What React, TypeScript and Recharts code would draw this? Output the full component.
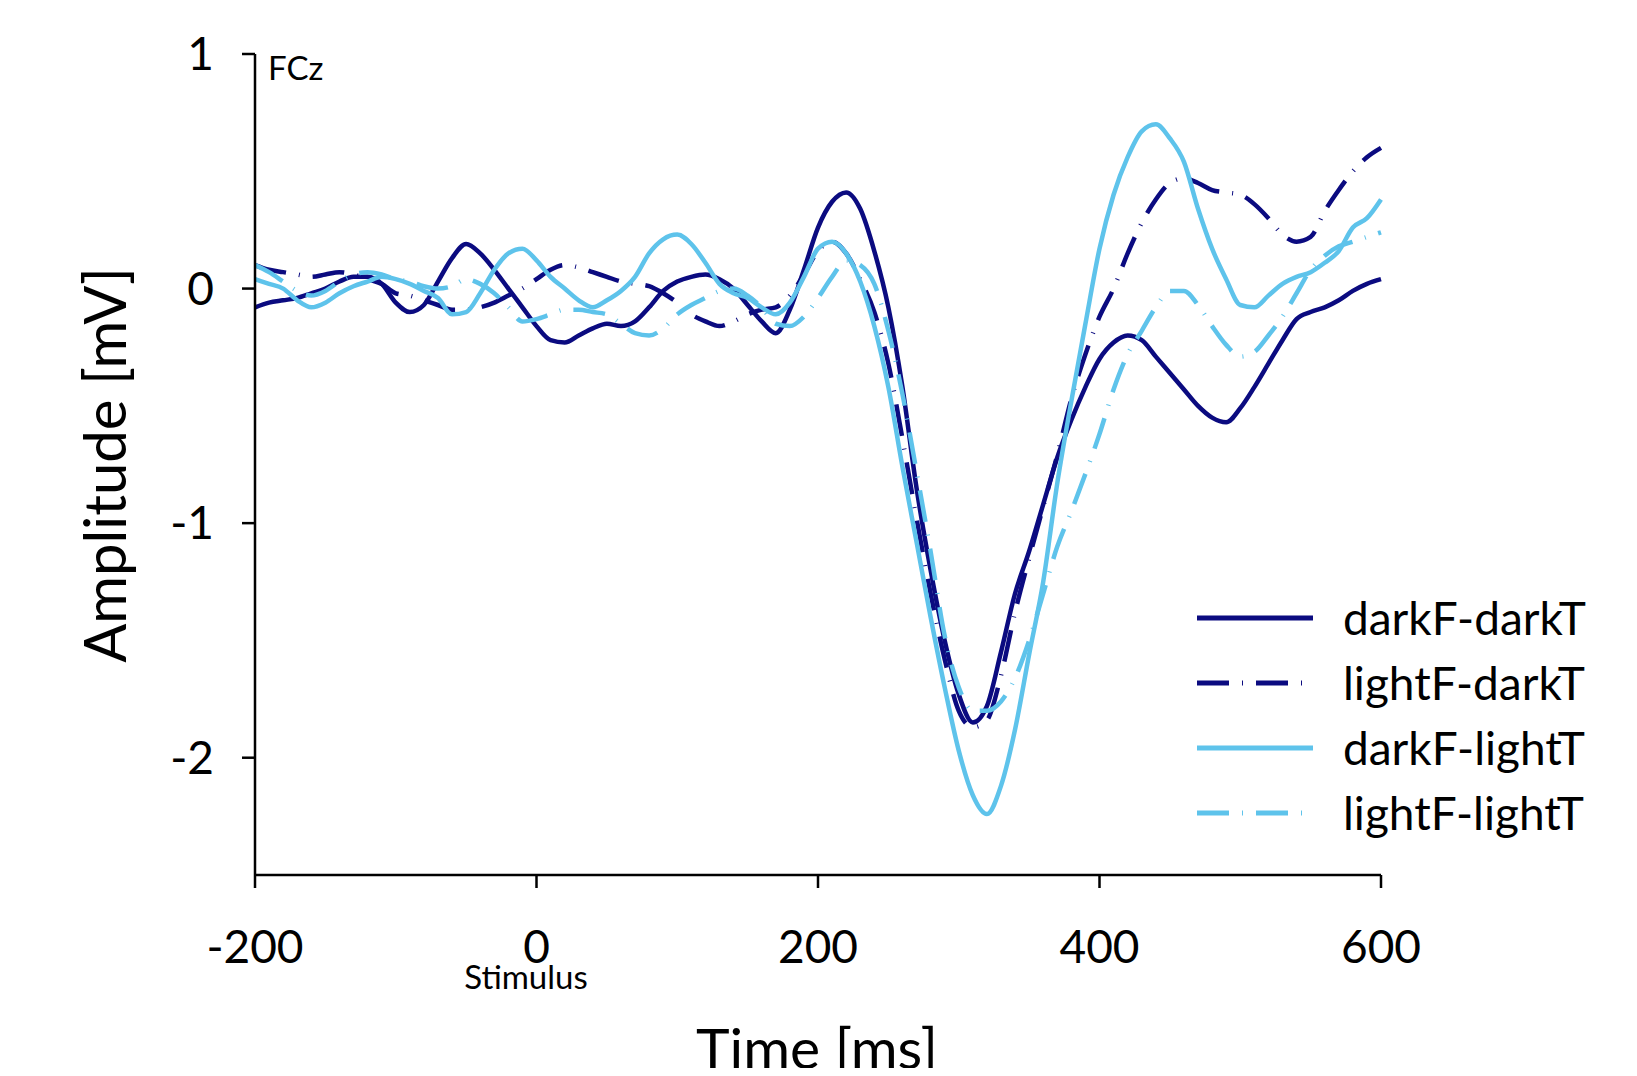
import { LineChart, Line, XAxis, YAxis } from "recharts";

const times = [
  -200, -190, -180, -170, -160, -150, -140, -130, -120, -110,
  -100, -90, -80, -70, -60, -50, -40, -30, -20, -10,
  0, 10, 20, 30, 40, 50, 60, 70, 80, 90,
  100, 110, 120, 130, 140, 150, 160, 170, 180, 190,
  200, 210, 220, 230, 240, 250, 260, 270, 280, 290,
  300, 310, 320, 330, 340, 350, 360, 370, 380, 390,
  400, 410, 420, 430, 440, 450, 460, 470, 480, 490,
  500, 510, 520, 530, 540, 550, 560, 570, 580, 590,
  600,
];

// darkF-darkT
const darkFdarkT = [
  -0.08, -0.06, -0.05, -0.04, -0.02, 0.0, 0.03, 0.05, 0.05, 0.02,
  -0.06, -0.1, -0.07, 0.03, 0.13, 0.19, 0.15, 0.08, 0.0, -0.08,
  -0.16, -0.22, -0.23, -0.2, -0.17, -0.15, -0.16, -0.14, -0.08, -0.01,
  0.03, 0.05, 0.06, 0.04, 0.0, -0.07, -0.14, -0.19, -0.09, 0.08,
  0.26, 0.37, 0.41, 0.34, 0.16, -0.08, -0.42, -0.85, -1.2, -1.5,
  -1.73, -1.85, -1.78, -1.55, -1.3, -1.12, -0.92, -0.72, -0.56, -0.42,
  -0.3, -0.23, -0.2, -0.22, -0.29, -0.36, -0.43, -0.5, -0.55, -0.57,
  -0.51, -0.42, -0.32, -0.22, -0.13, -0.1, -0.08, -0.05, -0.01, 0.02,
  0.04,
];

// lightF-darkT
const lightFdarkT = [
  0.1, 0.08, 0.07, 0.06, 0.05, 0.06, 0.07, 0.06, 0.04, 0.02,
  -0.02, -0.03, -0.05, -0.07, -0.09, -0.09, -0.08, -0.06, -0.03, 0.0,
  0.04, 0.08, 0.1, 0.09, 0.07, 0.05, 0.03, 0.02, 0.01, -0.02,
  -0.06, -0.11, -0.14, -0.16, -0.14, -0.11, -0.09, -0.08, -0.03, 0.06,
  0.16, 0.2, 0.15, 0.04, -0.1, -0.32, -0.64, -0.98, -1.3, -1.58,
  -1.8, -1.87, -1.84, -1.65, -1.38, -1.15, -0.93, -0.71, -0.47, -0.28,
  -0.12, 0.0, 0.15, 0.28, 0.38, 0.45, 0.47, 0.45, 0.42, 0.41,
  0.4, 0.36, 0.3, 0.23, 0.2, 0.22, 0.33, 0.42, 0.5, 0.56,
  0.6,
];

// darkF-lightT
const darkFlightT = [
  0.04, 0.02, 0.0, -0.05, -0.08, -0.06, -0.02, 0.01, 0.03, 0.05,
  0.04, 0.02, -0.01, -0.04, -0.11, -0.1, -0.02, 0.08, 0.15, 0.17,
  0.12, 0.05, 0.0, -0.05, -0.08, -0.05, -0.01, 0.05, 0.15, 0.21,
  0.23, 0.19, 0.11, 0.02, -0.02, -0.04, -0.08, -0.11, -0.06, 0.05,
  0.17, 0.2, 0.15, 0.03, -0.16, -0.42, -0.76, -1.08, -1.4, -1.7,
  -1.97, -2.16, -2.24, -2.12, -1.88, -1.56, -1.25, -0.83, -0.48, -0.15,
  0.17, 0.4, 0.56, 0.67, 0.7, 0.64, 0.54, 0.34, 0.17, 0.04,
  -0.07, -0.08, -0.03, 0.02, 0.05, 0.07, 0.11, 0.16, 0.26, 0.3,
  0.38,
];

// lightF-lightT
const lightFlightT = [
  0.1, 0.07, 0.03, -0.01, -0.03, -0.01, 0.03, 0.06, 0.07, 0.06,
  0.04, 0.03, 0.01, 0.0, 0.01, 0.04, 0.02, -0.02, -0.08, -0.14,
  -0.13, -0.11, -0.09, -0.09, -0.1, -0.11, -0.15, -0.19, -0.2, -0.17,
  -0.11, -0.07, -0.04, -0.01, 0.0, -0.03, -0.08, -0.15, -0.16, -0.12,
  -0.04, 0.05, 0.12, 0.1, 0.02, -0.18, -0.45, -0.78, -1.12, -1.48,
  -1.7, -1.8, -1.8, -1.76, -1.66, -1.5, -1.3, -1.1, -0.95, -0.79,
  -0.62, -0.43, -0.28, -0.18, -0.08, -0.01, -0.01, -0.07, -0.16, -0.24,
  -0.29, -0.27, -0.2, -0.12, -0.02, 0.08, 0.14, 0.18, 0.2, 0.22,
  0.24,
];

const xTicks = [-200, 0, 200, 400, 600];
const yTicks = [-2, -1, 0, 1];

const DARK = "#0b0b80";
const LIGHT = "#5ec3eb";
const DASH = "32 13 1 13";
const FONT = "Lato, 'Noto Sans', sans-serif";

const series = [
  { key: "darkFdarkT", name: "darkF-darkT", color: DARK, dash: undefined },
  { key: "lightFdarkT", name: "lightF-darkT", color: DARK, dash: DASH },
  { key: "darkFlightT", name: "darkF-lightT", color: LIGHT, dash: undefined },
  { key: "lightFlightT", name: "lightF-lightT", color: LIGHT, dash: DASH },
];

const data = times.map((t, i) => ({
  t,
  darkFdarkT: darkFdarkT[i],
  lightFdarkT: lightFdarkT[i],
  darkFlightT: darkFlightT[i],
  lightFlightT: lightFlightT[i],
}));

const W = 1621;
const H = 1060;

function LegendBox() {
  return (
    <div
      style={{
        position: "absolute",
        left: 1189,
        top: 577,
        fontFamily: FONT,
      }}
    >
      {series.map((s) => (
        <div
          key={s.key}
          style={{ display: "flex", alignItems: "center", height: 65 }}
        >
          <svg width={116} height={10} style={{ marginRight: 30 }}>
            <line
              x1={0}
              y1={5}
              x2={116}
              y2={5}
              stroke={s.color}
              strokeWidth={5}
              strokeDasharray={s.dash}
            />
          </svg>
          <span style={{ fontSize: 46, color: "#000", whiteSpace: "nowrap" }}>
            {s.name}
          </span>
        </div>
      ))}
    </div>
  );
}

export default function App() {
  const tickStyle = { fill: "#000", fontSize: 46, fontFamily: FONT };
  return (
    <div style={{ position: "relative", width: W, height: H }}>
      <LineChart
        width={W}
        height={H}
        data={data}
        margin={{ top: 46, right: 248, bottom: 0, left: 0 }}
      >
        <XAxis
          dataKey="t"
          type="number"
          domain={[-200, 600]}
          ticks={xTicks}
          height={193}
          tickSize={13}
          tickMargin={42}
          tick={tickStyle}
          axisLine={{ stroke: "#000", strokeWidth: 2.5 }}
          tickLine={{ stroke: "#000", strokeWidth: 2.5 }}
          interval={0}
        />
        <YAxis
          type="number"
          domain={[-2.5, 1]}
          ticks={yTicks}
          width={247}
          tickSize={13}
          tickMargin={28}
          tick={tickStyle}
          axisLine={{ stroke: "#000", strokeWidth: 2.5 }}
          tickLine={{ stroke: "#000", strokeWidth: 2.5 }}
          interval={0}
        />
        {series.map((s) => (
          <Line
            key={s.key}
            dataKey={s.key}
            name={s.name}
            type="monotone"
            stroke={s.color}
            strokeWidth={4.5}
            strokeDasharray={s.dash}
            dot={false}
            isAnimationActive={false}
          />
        ))}
      </LineChart>
      <LegendBox />
      <div
        style={{
          position: "absolute",
          left: 260,
          top: 59,
          transform: "translateY(-50%)",
          fontFamily: FONT,
          fontSize: 33,
          lineHeight: 1,
        }}
      >
        FCz
      </div>
      <div
        style={{
          position: "absolute",
          left: 518,
          top: 968,
          transform: "translate(-50%, -50%)",
          fontFamily: FONT,
          fontSize: 33,
          lineHeight: 1,
        }}
      >
        Stimulus
      </div>
      <div
        style={{
          position: "absolute",
          left: 809,
          top: 1039,
          transform: "translate(-50%, -50%)",
          fontFamily: FONT,
          fontSize: 57,
          lineHeight: 1,
          whiteSpace: "nowrap",
        }}
      >
        Time [ms]
      </div>
      <div
        style={{
          position: "absolute",
          left: 96,
          top: 457,
          transform: "translate(-50%, -50%) rotate(-90deg)",
          fontFamily: FONT,
          fontSize: 58,
          lineHeight: 1,
          whiteSpace: "nowrap",
        }}
      >
        Amplitude [mV]
      </div>
    </div>
  );
}
